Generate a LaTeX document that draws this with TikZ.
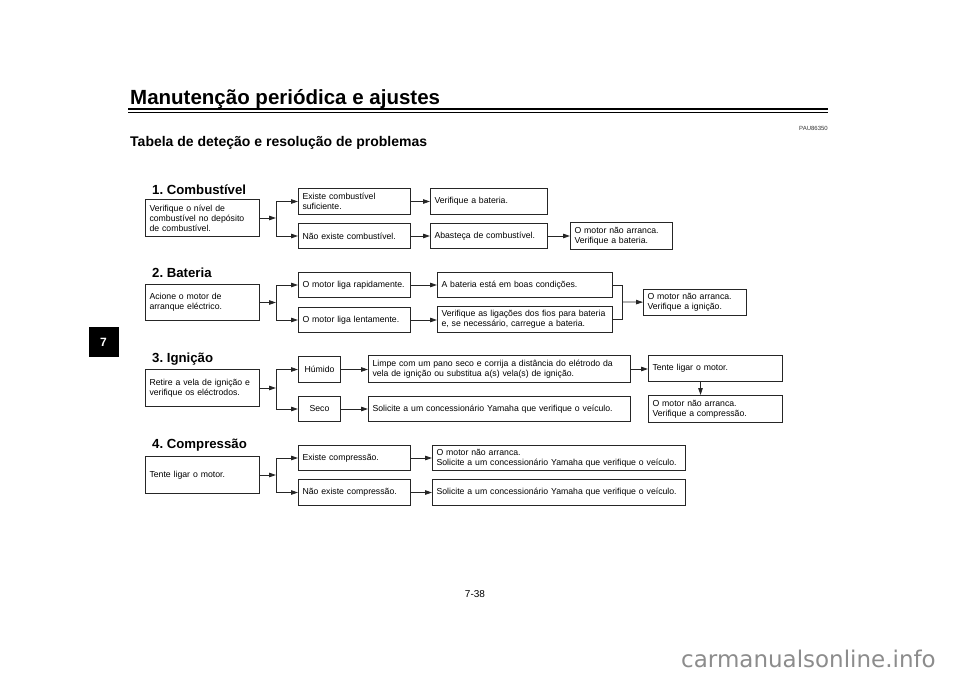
\documentclass[tikz,border=0pt]{standalone}
\usepackage{fontspec}
\setmainfont{Liberation Sans}
\newfontfamily\marcafont{DejaVu Sans}
\usepackage{tikz}
\usetikzlibrary{arrows.meta}
\frenchspacing
\newcommand{\caixafonte}{\fontsize{8.7}{10}\selectfont\hyphenpenalty=10000\relax}

\tikzset{
caixa/.style={draw=black!85, line width=1pt, anchor=north west, inner xsep=4pt, inner ysep=1pt, align=left, font=\caixafonte},
seta/.style={draw=black!85, line width=0.8pt, -{Triangle[length=7pt,width=4.5pt]}},
liga/.style={draw=black!85, line width=0.8pt},
secao/.style={anchor=base west, inner sep=0pt, font=\bfseries\fontsize{13.2}{15}\selectfont}
}

\begin{document}
\begin{tikzpicture}[x=1pt,y=-1pt]
\useasboundingbox (0,0) rectangle (960,679);

\node at (130,105) (titulo)[anchor=base west, inner sep=0pt, font=\bfseries\fontsize{20.5}{24}\selectfont]{Manutenção periódica e ajustes};
\draw[line width=2pt] (128,109) -- (828,109);
\draw[line width=0.8pt] (128,112.5) -- (828,112.5);
\node at (828,131) (codigo)[anchor=base east, inner sep=0pt, text=black!80, font=\fontsize{6}{7}\selectfont]{PAU86350};
\node at (130,147) (subtitulo)[anchor=base west, inner sep=0pt, font=\bfseries\fontsize{14}{16}\selectfont]{Tabela de deteção e resolução de problemas};
\node at (103.5,342) (capitulo)[fill=black, minimum size=30pt, text=white, font=\bfseries\fontsize{12}{14}\selectfont]{7};

\coordinate (j) at (276,0);

\node at (152,194) (s1)[secao]{1. Combustível};
\node at (145,199) (a1)[caixa, text width=106pt, minimum height=37pt]{Verifique o nível de\\combustível no depósito\\de combustível.};
\node at (298,188) (b1)[caixa, text width=104pt, minimum height=26pt]{Existe combustível\\suficiente.};
\node at (430,188) (c1)[caixa, text width=109pt, minimum height=26pt]{Verifique a bateria.};
\node at (298,223) (d1)[caixa, text width=104pt, minimum height=25pt]{Não existe combustível.};
\node at (430,223) (e1)[caixa, text width=109pt, minimum height=25pt]{Abasteça de combustível.};
\node at (570,222) (f1)[caixa, text width=94pt, minimum height=27pt]{O motor não arranca.\\Verifique a bateria.};
\draw[seta] (a1) -- (a1 -| j);
\draw[liga] (b1 -| j) -- (d1 -| j);
\draw[seta] (b1 -| j) -- (b1);
\draw[seta] (d1 -| j) -- (d1);
\draw[seta] (b1) -- (c1);
\draw[seta] (d1) -- (e1);
\draw[seta] (e1) -- (f1);

\node at (152,277) (s2)[secao]{2. Bateria};
\node at (145,284) (a2)[caixa, text width=106pt, minimum height=36pt]{Acione o motor de\\arranque eléctrico.};
\node at (298,272) (b2)[caixa, text width=104pt, minimum height=25pt]{O motor liga rapidamente.};
\node at (437,272) (c2)[caixa, text width=167pt, minimum height=25pt]{A bateria está em boas condições.};
\node at (298,307) (d2)[caixa, text width=104pt, minimum height=25pt]{O motor liga lentamente.};
\node at (437,306) (e2)[caixa, text width=167pt, minimum height=26pt]{Verifique as ligações dos fios para bateria\\e, se necessário, carregue a bateria.};
\node at (643,289) (f2)[caixa, text width=95pt, minimum height=26pt]{O motor não arranca.\\Verifique a ignição.};
\coordinate (m2) at (622,302);
\draw[seta] (a2) -- (a2 -| j);
\draw[liga] (b2 -| j) -- (d2 -| j);
\draw[seta] (b2 -| j) -- (b2);
\draw[seta] (d2 -| j) -- (d2);
\draw[seta] (b2) -- (c2);
\draw[seta] (d2) -- (d2 -| e2.west);
\draw[liga] (c2.east) -- (c2.east -| m2) -- (e2.east -| m2) -- (e2.east);
\draw[seta] (m2) -- (f2);

\node at (152,362) (s3)[secao]{3. Ignição};
\node at (145,369) (a3)[caixa, text width=106pt, minimum height=37pt]{Retire a vela de ignição e\\verifique os eléctrodos.};
\node at (298,356) (b3)[caixa, text width=34pt, minimum height=26pt, align=center]{Húmido};
\node at (368,355) (c3)[caixa, text width=254pt, minimum height=27pt]{Limpe com um pano seco e corrija a distância do elétrodo da\\vela de ignição ou substitua a(s) vela(s) de ignição.};
\node at (298,396) (d3)[caixa, text width=34pt, minimum height=25pt, align=center]{Seco};
\node at (368,396) (e3)[caixa, text width=254pt, minimum height=25pt]{Solicite a um concessionário Yamaha que verifique o veículo.};
\node at (648,355) (f3)[caixa, text width=126pt, minimum height=26pt]{Tente ligar o motor.};
\node at (648,395) (g3)[caixa, text width=126pt, minimum height=27pt]{O motor não arranca.\\Verifique a compressão.};
\draw[seta] (a3) -- (a3 -| j);
\draw[liga] (b3 -| j) -- (d3 -| j);
\draw[seta] (b3 -| j) -- (b3);
\draw[seta] (d3 -| j) -- (d3);
\draw[seta] (b3) -- (b3 -| c3.west);
\draw[seta] (d3) -- (e3);
\draw[seta] (c3) -- (c3 -| f3.west);
\draw[seta] ([xshift=-15pt]f3.south) -- ([xshift=-15pt]g3.north);

\node at (152,448) (s4)[secao]{4. Compressão};
\node at (145,456) (a4)[caixa, text width=106pt, minimum height=37pt]{Tente ligar o motor.};
\node at (298,445) (b4)[caixa, text width=104pt, minimum height=25pt]{Existe compressão.};
\node at (432,445) (c4)[caixa, text width=245pt, minimum height=25pt]{O motor não arranca.\\Solicite a um concessionário Yamaha que verifique o veículo.};
\node at (298,479) (d4)[caixa, text width=104pt, minimum height=26pt]{Não existe compressão.};
\node at (432,479) (e4)[caixa, text width=245pt, minimum height=26pt]{Solicite a um concessionário Yamaha que verifique o veículo.};
\draw[seta] (a4) -- (a4 -| j);
\draw[liga] (b4 -| j) -- (d4 -| j);
\draw[seta] (b4 -| j) -- (b4);
\draw[seta] (d4 -| j) -- (d4);
\draw[seta] (b4) -- (c4);
\draw[seta] (d4) -- (e4);

\node at (475,597) (pagina)[anchor=base, inner sep=0pt, font=\fontsize{10}{12}\selectfont]{7-38};
\node at (681,667) (marca)[anchor=base west, inner sep=0pt, text=black!45, font=\marcafont\fontsize{23}{26}\selectfont]{carmanualsonline.info};
\end{tikzpicture}
\end{document}
